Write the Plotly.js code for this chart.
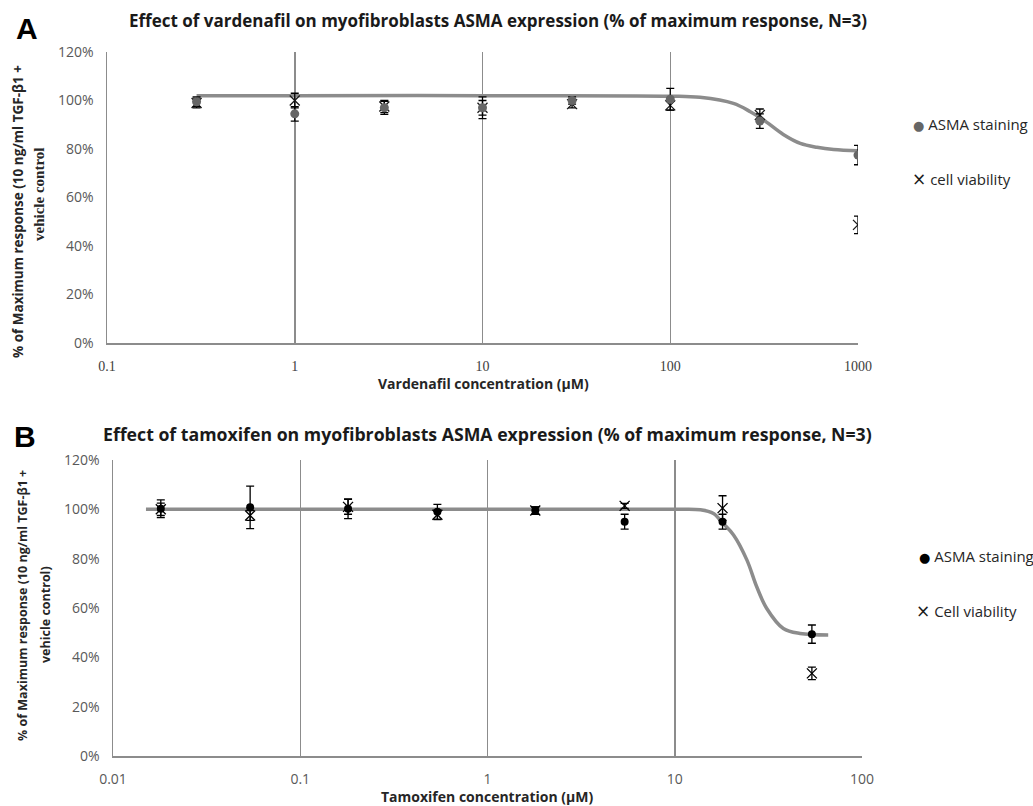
<!DOCTYPE html>
<html>
<head>
<meta charset="utf-8">
<script src="https://cdn.plot.ly/plotly-3.0.1.min.js"></script>
<style>html,body{margin:0;padding:0;background:#fff;}#chart{width:1033px;height:806px;}</style>
</head>
<body>
<div id="chart"></div>
<script>
// ---- Panel A: vardenafil ----
const concA = [0.3, 1, 3, 10, 30, 100, 300, 1000];
const asmaA = [99.5, 94.5, 97, 97, 100, 100.5, 91.5, 77.5];
const asmaAErr = [2, 3, 2.7, 4.5, 1.5, 4.5, 3, 4];
const viabA = [99, 100, 97.5, 97, 98.5, 98, 94, 48.7];
const viabAErr = [2, 3, 2.5, 3, 1.5, 2, 2.5, 3.6];
const fitAx = [0.3, 1, 10, 100, 144, 217, 267, 300, 327, 400, 493, 605, 742, 1000];
const fitAy = [102, 102, 102, 101.8, 101.3, 98.8, 95.4, 93, 91, 86, 82.3, 80.7, 79.8, 79.3];
const ticksA = [0.1, 1, 10, 100, 1000];
const tickTextA = ['0.1', '1', '10', '100', '1000'];

// ---- Panel B: tamoxifen ----
const concB = [0.018, 0.054, 0.18, 0.54, 1.8, 5.4, 18, 54];
const asmaB = [100.2, 100.8, 100.2, 99, 99.5, 95, 95, 49.4];
const asmaBErr = [3.6, 8.6, 4, 3, 1.5, 3, 3, 3.7];
const viabB = [100, 97.5, 101, 97.8, 99.5, 101.4, 100.5, 33.5];
const viabBErr = [2.5, 2, 3, 2, 1.5, 1, 5, 2.5];
const fitBx = [0.015, 0.1, 1, 10, 13.7, 16.1, 18, 20.6, 24.3, 27.4, 31, 38, 46.7, 66];
const fitBy = [100, 100, 100, 100, 99.8, 98.3, 94.5, 89.6, 79.4, 68.6, 59.8, 51.7, 49.7, 49.1];
const ticksB = [0.01, 0.1, 1, 10, 100];
const tickTextB = ['0.01', '0.1', '1', '10', '100'];

const yTicks = [0, 20, 40, 60, 80, 100, 120];
const yTickText = yTicks.map(v => v + '%');

const W = 1033, H = 806;
const px = x => x / W;
const py = y => 1 - y / H;
const GRID = '#8c8c8c';
const SANS = 'Open Sans, sans-serif';
const SERIF = 'Liberation Serif, serif';

function errY(arr) {
  return {type: 'data', array: arr, visible: true, color: '#000', thickness: 1.3, width: 4};
}

const traces = [
  {x: fitAx, y: fitAy, xaxis: 'x', yaxis: 'y', mode: 'lines', line: {color: '#8c8c8c', width: 3.5, shape: 'spline', smoothing: 1}, hoverinfo: 'skip', name: 'fit A'},
  {x: concA, y: viabA, xaxis: 'x', yaxis: 'y', mode: 'markers', name: 'cell viability',
   marker: {symbol: 'x-thin-open', size: 10, color: '#1a1a1a', line: {color: '#1a1a1a', width: 1.3}}, error_y: errY(viabAErr)},
  {x: concA, y: asmaA, xaxis: 'x', yaxis: 'y', mode: 'markers', name: 'ASMA staining',
   marker: {symbol: 'circle', size: 9, color: '#666666'}, error_y: errY(asmaAErr)},
  {x: fitBx, y: fitBy, xaxis: 'x2', yaxis: 'y2', mode: 'lines', line: {color: '#8c8c8c', width: 3.5, shape: 'spline', smoothing: 1}, hoverinfo: 'skip', name: 'fit B'},
  {x: concB, y: viabB, xaxis: 'x2', yaxis: 'y2', mode: 'markers', name: 'Cell viability',
   marker: {symbol: 'x-thin-open', size: 10, color: '#000', line: {color: '#000', width: 1.3}}, error_y: errY(viabBErr)},
  {x: concB, y: asmaB, xaxis: 'x2', yaxis: 'y2', mode: 'markers', name: 'ASMA staining',
   marker: {symbol: 'circle', size: 8, color: '#000'}, error_y: errY(asmaBErr)}
];

const xCommon = {type: 'log', showgrid: true, gridcolor: GRID, gridwidth: 1.5, showline: true, linecolor: GRID, linewidth: 1.5,
  ticks: '', zeroline: false, fixedrange: true, tickmode: 'array'};
const yCommon = {range: [0, 120], tickmode: 'array', tickvals: yTicks, ticktext: yTickText, showgrid: false, showline: true,
  linecolor: GRID, linewidth: 1.5, ticks: '', zeroline: false, ticklabelstandoff: 9,
  tickfont: {family: SANS, size: 14, color: '#595959'}};

const DOT = (c) => '<span style="font-family:DejaVu Sans;font-size:13px;color:' + c + '">●</span>';
const CROSS = '<span style="font-family:DejaVu Sans;font-size:17px;color:#1a1a1a">×</span>';

const layout = {
  width: W, height: H, margin: {l: 0, r: 0, t: 0, b: 0}, showlegend: false,
  paper_bgcolor: '#fff', plot_bgcolor: '#fff',
  xaxis: Object.assign({}, xCommon, {domain: [px(107), px(858)], range: [-1, 3], tickvals: ticksA, ticktext: tickTextA,
    anchor: 'y', ticklabelstandoff: 10, tickfont: {family: SERIF, size: 14, color: '#404040'}}),
  yaxis: Object.assign({}, yCommon, {domain: [py(343), py(52)], anchor: 'x'}),
  xaxis2: Object.assign({}, xCommon, {domain: [px(113), px(862)], range: [-2, 2], tickvals: ticksB, ticktext: tickTextB,
    anchor: 'y2', ticklabelstandoff: 10, tickfont: {family: SANS, size: 14, color: '#595959'}}),
  yaxis2: Object.assign({}, yCommon, {domain: [py(756), py(460)], anchor: 'x2'}),
  annotations: [
    {text: '<b>A</b>', x: px(27), y: py(29), xref: 'paper', yref: 'paper', showarrow: false, xanchor: 'center', yanchor: 'middle',
     font: {family: 'Liberation Sans, Arial, sans-serif', size: 30, color: '#000'}},
    {text: '<b>B</b>', x: px(25), y: py(436), xref: 'paper', yref: 'paper', showarrow: false, xanchor: 'center', yanchor: 'middle',
     font: {family: 'Liberation Sans, Arial, sans-serif', size: 30, color: '#000'}},
    {text: '<b>Effect of vardenafil on myofibroblasts ASMA expression (% of maximum response, N=3)</b>', x: px(498), y: py(21),
     xref: 'paper', yref: 'paper', showarrow: false, xanchor: 'center', yanchor: 'middle', font: {family: SANS, size: 17, color: '#1a1a1a'}},
    {text: '<b>Effect of tamoxifen on myofibroblasts ASMA expression (% of maximum response, N=3)</b>', x: px(487), y: py(434),
     xref: 'paper', yref: 'paper', showarrow: false, xanchor: 'center', yanchor: 'middle', font: {family: SANS, size: 17.7, color: '#1a1a1a'}},
    {text: '<b>Vardenafil concentration (µM)</b>', x: px(483), y: py(383), xref: 'paper', yref: 'paper', showarrow: false,
     xanchor: 'center', yanchor: 'middle', font: {family: SANS, size: 14, color: '#262626'}},
    {text: '<b>Tamoxifen concentration (µM)</b>', x: px(487), y: py(796), xref: 'paper', yref: 'paper', showarrow: false,
     xanchor: 'center', yanchor: 'middle', font: {family: SANS, size: 14, color: '#262626'}},
    {text: '<b>% of Maximum response (10 ng/ml TGF-β1 +</b>', x: px(18), y: py(212), xref: 'paper', yref: 'paper', showarrow: false,
     textangle: -90, xanchor: 'center', yanchor: 'middle', font: {family: SANS, size: 13.5, color: '#262626'}},
    {text: '<b>vehicle control</b>', x: px(39), y: py(195), xref: 'paper', yref: 'paper', showarrow: false,
     textangle: -90, xanchor: 'center', yanchor: 'middle', font: {family: SERIF, size: 15, color: '#262626'}},
    {text: '<b>% of Maximum response (10 ng/ml TGF-β1 +</b>', x: px(22), y: py(606), xref: 'paper', yref: 'paper', showarrow: false,
     textangle: -90, xanchor: 'center', yanchor: 'middle', font: {family: SANS, size: 12.5, color: '#262626'}},
    {text: '<b>vehicle control)</b>', x: px(45), y: py(615), xref: 'paper', yref: 'paper', showarrow: false,
     textangle: -90, xanchor: 'center', yanchor: 'middle', font: {family: SANS, size: 12.5, color: '#262626'}},
    // legends
    {text: DOT('#666666') + ' ASMA staining', x: px(911), y: py(124), xref: 'paper', yref: 'paper', showarrow: false,
     xanchor: 'left', yanchor: 'middle', font: {family: SANS, size: 15, color: '#262626'}},
    {text: CROSS + ' cell viability', x: px(910), y: py(179), xref: 'paper', yref: 'paper', showarrow: false,
     xanchor: 'left', yanchor: 'middle', font: {family: SANS, size: 15, color: '#262626'}},
    {text: DOT('#000') + ' ASMA staining', x: px(917), y: py(556), xref: 'paper', yref: 'paper', showarrow: false,
     xanchor: 'left', yanchor: 'middle', font: {family: SANS, size: 15, color: '#262626'}},
    {text: CROSS + ' Cell viability', x: px(914), y: py(611), xref: 'paper', yref: 'paper', showarrow: false,
     xanchor: 'left', yanchor: 'middle', font: {family: SANS, size: 15, color: '#262626'}}
  ]
};

Plotly.newPlot('chart', traces, layout, {staticPlot: true, displayModeBar: false});
</script>
</body>
</html>
